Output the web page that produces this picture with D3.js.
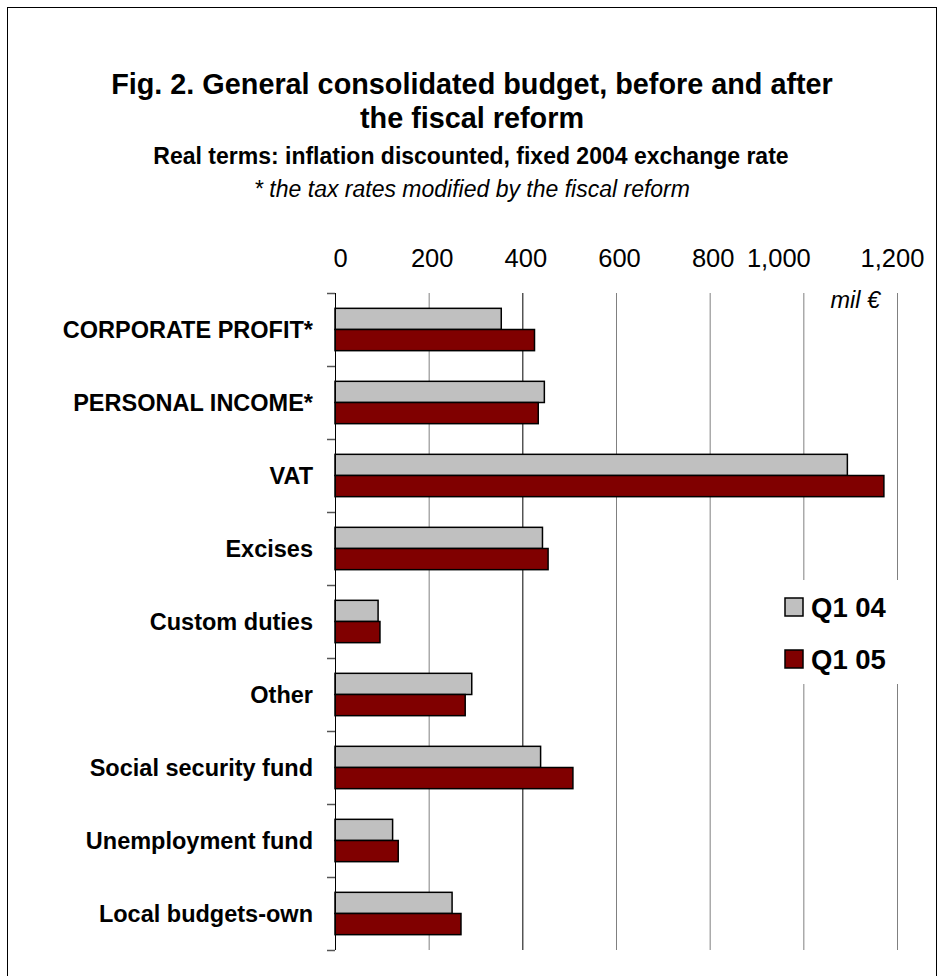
<!DOCTYPE html>
<html><head><meta charset="utf-8">
<script src="https://cdn.jsdelivr.net/npm/d3@7"></script>
<style>body{margin:0;background:#fff}svg{display:block}text{font-family:"Liberation Sans",Arial,sans-serif}</style>
</head><body>
<script>
const categories = ["CORPORATE PROFIT*","PERSONAL INCOME*","VAT","Excises","Custom duties","Other","Social security fund","Unemployment fund","Local budgets-own"];
const seriesNames = ["Q1 04","Q1 05"];
const q104 = [355, 447, 1094, 443, 92, 292, 439, 123, 250];
const q105 = [426, 434, 1172, 455, 96, 278, 508, 135, 269];
const tickValues = [0,200,400,600,800,1000,1200];
const colors = ["#c0c0c0","#800000"];

(function(){
const W=944,H=976;
const svg=d3.select("body").append("svg").attr("width",W).attr("height",H);
svg.append("rect").attr("x",7.5).attr("y",7.5).attr("width",929).attr("height",990).attr("fill","#fff").attr("stroke","#000");

const pl=335,pr=897,pt=293,pb=950;
const x=d3.scaleLinear().domain([0,1200]).range([pl,pr]);
const y=d3.scaleBand().domain(categories).range([pt,pb]).paddingInner(0.42).paddingOuter(0.21);
const ys=d3.scaleBand().domain(seriesNames).range([0,y.bandwidth()]);

// titles
svg.append("text").attr("x",472).attr("y",94).attr("text-anchor","middle").attr("font-weight","bold").attr("font-size",28.8).text("Fig. 2. General consolidated budget, before and after");
svg.append("text").attr("x",472).attr("y",128).attr("text-anchor","middle").attr("font-weight","bold").attr("font-size",28.8).text("the fiscal reform");
svg.append("text").attr("x",471).attr("y",164).attr("text-anchor","middle").attr("font-weight","bold").attr("font-size",23).text("Real terms: inflation discounted, fixed 2004 exchange rate");
svg.append("text").attr("x",472).attr("y",197).attr("text-anchor","middle").attr("font-style","italic").attr("font-size",23).text("* the tax rates modified by the fiscal reform");

// gridlines
svg.append("g").selectAll("line").data(tickValues.slice(1)).join("line")
  .attr("x1",d=>x(d)+0.5).attr("x2",d=>x(d)+0.5).attr("y1",pt).attr("y2",pb)
  .attr("stroke",d=>d===400?"#000":"#808080").attr("stroke-width",1);

// top axis labels
const xa=d3.axisTop(x).tickValues(tickValues).tickSize(0).tickPadding(0).tickFormat(d3.format(","));
const gx=svg.append("g").attr("transform",`translate(0,267)`).call(xa);
gx.select(".domain").remove();
gx.selectAll("text").attr("font-size",25.5).attr("fill","#000").style("font-family","'Liberation Sans',Arial,sans-serif")
  .attr("dx",d=>d===0?5:(d===1000?-25:(d===1200?-5:3)));

svg.append("text").attr("x",880).attr("y",308).attr("text-anchor","end").attr("font-style","italic").attr("font-size",23.5).text("mil €");

// bars
const g=svg.append("g");
categories.forEach((c,i)=>{
  [q104,q105].forEach((arr,j)=>{
    g.append("rect").attr("x",x(0)).attr("y",y(c)+ys(seriesNames[j]))
     .attr("width",x(arr[i])-x(0)).attr("height",ys.bandwidth())
     .attr("fill",colors[j]).attr("stroke","#000").attr("stroke-width",1.5);
  });
});

// category axis
svg.append("line").attr("x1",pl+0.5).attr("x2",pl+0.5).attr("y1",pt).attr("y2",pb).attr("stroke","#000");
const boundaries=d3.range(categories.length+1).map(i=>pt+i*(pb-pt)/categories.length);
svg.append("g").selectAll("line").data(boundaries).join("line")
  .attr("x1",pl-8).attr("x2",pl).attr("y1",d=>Math.round(d)+0.5).attr("y2",d=>Math.round(d)+0.5).attr("stroke","#555").attr("stroke-width",1.5);
svg.append("g").selectAll("text").data(categories).join("text")
  .attr("x",313).attr("y",d=>y(d)+y.bandwidth()/2+8).attr("text-anchor","end")
  .attr("font-weight","bold").attr("font-size",23.5).text(d=>d);

// legend
const lg=svg.append("g");
lg.append("rect").attr("x",775).attr("y",580).attr("width",130).attr("height",104).attr("fill","#fff");
seriesNames.forEach((s,j)=>{
  lg.append("rect").attr("x",785).attr("y",598+j*52).attr("width",18).attr("height",18).attr("fill",colors[j]).attr("stroke","#000").attr("stroke-width",1.5);
  lg.append("text").attr("x",811).attr("y",617+j*52).attr("font-weight","bold").attr("font-size",27.5).text(s);
});
})();
</script>
</body></html>
